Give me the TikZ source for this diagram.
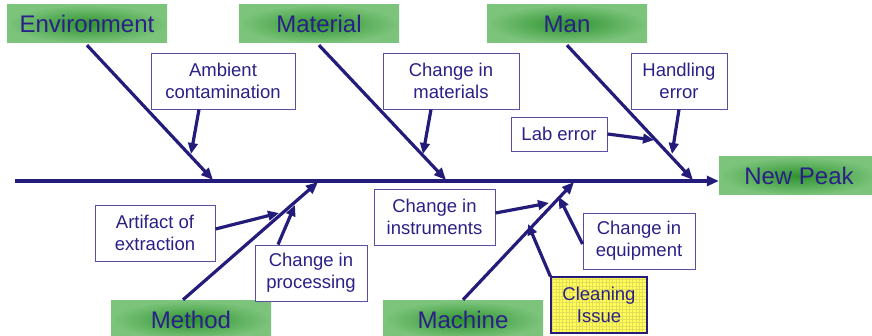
\documentclass[tikz,border=0pt]{standalone}
\usepackage{fontspec}
\setmainfont{Liberation Sans}
\usetikzlibrary{arrows.meta}
\definecolor{navy}{HTML}{231C7A}
\definecolor{inkblue}{HTML}{2A2088}
\definecolor{boxline}{HTML}{5A4EA2}
\definecolor{gdark}{HTML}{2F932F}
\definecolor{glight}{HTML}{7CC47C}
\definecolor{yfill}{HTML}{FFFF55}
\definecolor{ygrid}{HTML}{E2DC5A}
\tikzset{
  category/.style={shading=radial, inner color=gdark, outer color=glight,
    minimum width=160pt, minimum height=38pt, inner sep=0pt,
    text=inkblue, font=\fontsize{24}{28}\selectfont},
  cause/.style={draw=boxline, line width=0.9pt, fill=white, inner sep=0pt,
    align=center, text=inkblue, font=\fontsize{18.5}{22}\selectfont,
    minimum height=56pt},
  bone/.style={draw=navy, line width=3.2pt, -{Triangle[length=12pt,width=10pt]}},
  twig/.style={draw=navy, line width=3.2pt, -{Triangle[length=11pt,width=9.5pt]}},
}
\begin{document}
\begin{tikzpicture}[x=1pt,y=-1pt]
\useasboundingbox (0,0) rectangle (872,336);

% categories
\node[category] (env)  at (87,24)  {Environment};
\node[category] (mat)  at (319,24) {Material};
\node[category] (man)  at (567,24) {Man};
\node[category] (peak) at (799,176) {New Peak};
\node[category] (meth) at (191,320) {Method};
\node[category] (mach) at (463,320) {Machine};

% spine
\coordinate (tail) at (15,181);
\draw[bone] (tail) -- (tail -| peak.west);

% main bones
\coordinate (eEnd) at (213,180);
\coordinate (mEnd) at (446,180);
\coordinate (nEnd) at (693,180);
\coordinate (meEnd) at (318,182);
\coordinate (maEnd) at (574,182);
\draw[bone] ([yshift=-2pt]env.south) -- (eEnd);
\draw[bone] ([yshift=-2pt]mat.south) -- (mEnd);
\draw[bone] ([yshift=-2pt]man.south) -- (nEnd);
\draw[bone] ([xshift=-8pt,yshift=1pt]meth.north) -- (meEnd);
\draw[bone] ([yshift=1pt]mach.north) -- (maEnd);

% causes
\node[cause, minimum width=144pt] (amb)   at (223,81)   {Ambient\\contamination};
\node[cause, minimum width=136pt] (chm)   at (451,81)   {Change in\\materials};
\node[cause, minimum width=96pt]  (hand)  at (679,81)   {Handling\\error};
\node[cause, minimum width=96pt, minimum height=34pt] (lab) at (559,134) {Lab error};
\node[cause, minimum width=120pt] (art)   at (155,233)  {Artifact of\\extraction};
\node[cause, minimum width=112pt] (proc)  at (311,273)  {Change in\\processing};
\node[cause, minimum width=121pt] (inst)  at (434.5,217) {Change in\\instruments};
\node[cause, minimum width=112pt] (equip) at (639,241)  {Change in\\equipment};
\node[cause, minimum width=96pt, draw=navy, line width=1.2pt, fill=yfill,
  path picture={\draw[ygrid, line width=0.4pt, step=3.33pt]
    (path picture bounding box.south west) grid (path picture bounding box.north east);}]
  (clean) at (599,305) {Cleaning\\Issue};

% arrow tips on the bones
\coordinate (tAmb)   at (191,154);
\coordinate (tMat)   at (423,154);
\coordinate (tHand)  at (672,154);
\coordinate (tLab)   at (654,140);
\coordinate (tArt)   at (279,213);
\coordinate (tProc)  at (295,205);
\coordinate (tInst)  at (549,203);
\coordinate (tEquip) at (559,197);
\coordinate (tClean) at (528,224);

\draw[twig] ([xshift=-24pt]amb.south) -- (tAmb);
\draw[twig] ([xshift=-20pt]chm.south) -- (tMat);
\draw[twig] (hand.south) -- (tHand);
\draw[twig] (lab.east) -- (tLab);
\draw[twig] ([yshift=4pt]art.east) -- (tArt);
\draw[twig] ([xshift=-33pt]proc.north) -- (tProc);
\draw[twig] ([yshift=4pt]inst.east) -- (tInst);
\draw[twig] ([yshift=-3pt]equip.west) -- (tEquip);
\draw[twig] (clean.north west) -- (tClean);
\end{tikzpicture}
\end{document}
